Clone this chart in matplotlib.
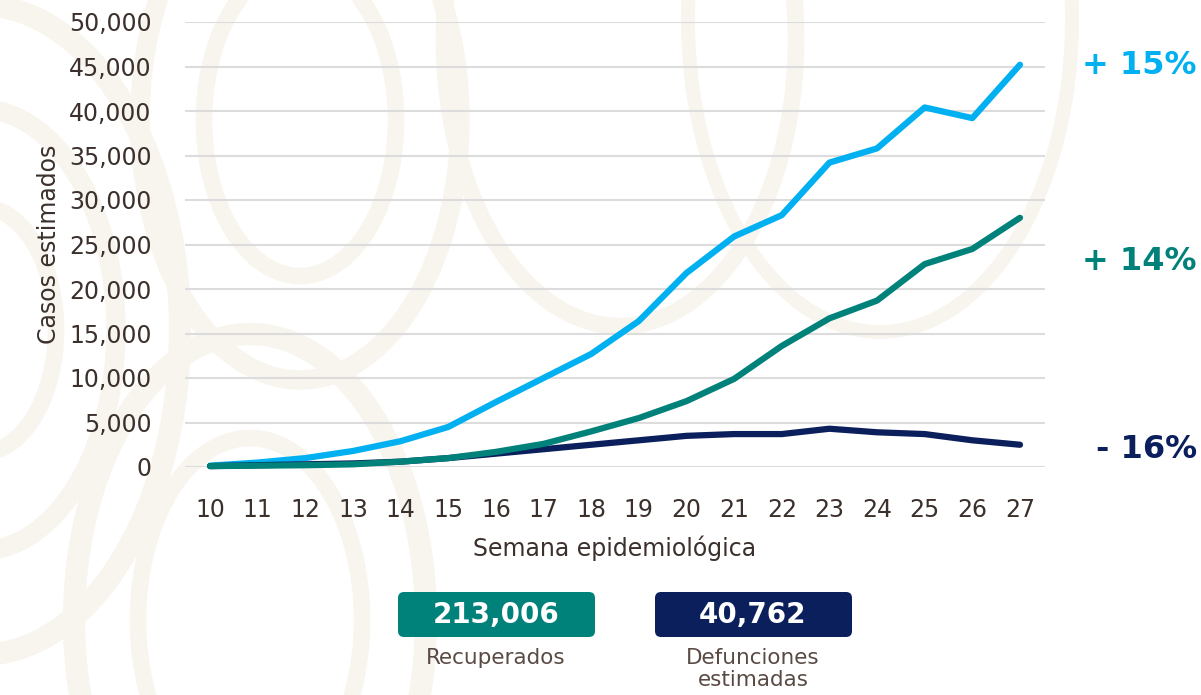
import matplotlib.pyplot as plt
import numpy as np
from matplotlib.patches import FancyBboxPatch

# semanas epidemiologicas
semanas = list(range(10, 28))

# casos estimados por semana
activos = [150, 500, 1000, 1800, 2900, 4500, 7300, 10000, 12700, 16400,
           21800, 25900, 28300, 34200, 35800, 40400, 39200, 45200]
recuperados = [100, 150, 200, 300, 600, 1000, 1700, 2600, 4000, 5500,
               7400, 9900, 13600, 16700, 18700, 22800, 24500, 28000]
defunciones = [100, 200, 300, 400, 600, 1000, 1500, 2000, 2500, 3000,
               3500, 3700, 3700, 4300, 3900, 3700, 3000, 2500]

cambios = ['+ 15%', '+ 14%', '- 16%']
totales = ['213,006', '40,762']
etiquetas = ['Recuperados', 'Defunciones\nestimadas']

c_azul = '#00b0f0'
c_verde = '#00827a'
c_marino = '#0a1f5c'
c_texto = '#3b302c'

plt.rcParams['font.family'] = ['DejaVu Sans']

fig = plt.figure(figsize=(12.01, 6.95), dpi=100)
fig.patch.set_facecolor('white')

# fondo con trazos tenues
bg = fig.add_axes([0, 0, 1, 1], zorder=-1)
bg.set_xlim(0, 1201)
bg.set_ylim(695, 0)
bg.axis('off')
a = np.linspace(-np.pi, np.pi, 300)
for cx, cy, r, w in [(-20, 330, 250, 16), (-20, 330, 170, 14), (-20, 330, 95, 12),
                     (300, 120, 200, 14), (300, 120, 120, 12),
                     (250, 620, 220, 16), (250, 620, 140, 12),
                     (620, 40, 220, 12), (880, 20, 240, 10)]:
    bg.plot(cx + r * 0.8 * np.cos(a), cy + r * 1.3 * np.sin(a), color='#f8f5ef',
            lw=w, solid_capstyle='round', zorder=0)

ax = fig.add_axes([185 / 1201, (695 - 467) / 695, (1045 - 185) / 1201, 445 / 695])
ax.patch.set_alpha(0)

ax.plot(semanas, activos, color=c_azul, lw=4.5, clip_on=False, zorder=3,
        solid_capstyle='round', solid_joinstyle='round')
ax.plot(semanas, defunciones, color=c_marino, lw=4.5, clip_on=False, zorder=3,
        solid_capstyle='round', solid_joinstyle='round')
ax.plot(semanas, recuperados, color=c_verde, lw=4.5, clip_on=False, zorder=4,
        solid_capstyle='round', solid_joinstyle='round')

ax.set_xlim(9.475, 27.525)
ax.set_ylim(0, 50000)
ax.set_xticks(semanas)
ax.set_yticks(range(0, 50001, 5000))
ax.set_yticklabels([f'{v:,}' for v in range(0, 50001, 5000)])
ax.grid(axis='y', color='#dcdcdc', lw=1.5)
ax.set_axisbelow(True)
for s in ax.spines.values():
    s.set_visible(False)
ax.tick_params(length=0, labelsize=17, colors=c_texto)
ax.tick_params(axis='y', pad=24)
ax.tick_params(axis='x', pad=22)
ax.set_xlabel('Semana epidemiológica', fontsize=17, color=c_texto, labelpad=10)
ax.set_ylabel('Casos estimados', fontsize=17, color=c_texto, labelpad=6)

# cambios porcentuales
for txt, col, y in zip(cambios, [c_azul, c_verde, c_marino], [65, 262, 450]):
    fig.text(1197 / 1201, 1 - y / 695, txt, color=col, fontsize=23,
             fontweight='bold', ha='right', va='center')

# recuadros de totales
for txt, lab, col, x0 in zip(totales, etiquetas, [c_verde, c_marino], [398, 655]):
    box = FancyBboxPatch((x0, 592), 197, 45, boxstyle='round,pad=0,rounding_size=6',
                         facecolor=col, edgecolor='none', zorder=5)
    bg.add_patch(box)
    bg.text(x0 + 98, 615, txt, color='white', fontsize=20, fontweight='bold',
            ha='center', va='center', zorder=6)
    bg.text(x0 + 98, 648, lab, color='#5a4a44', fontsize=15.5,
            ha='center', va='top', linespacing=1.1, zorder=6)

fig.savefig('out.png', dpi=100)
